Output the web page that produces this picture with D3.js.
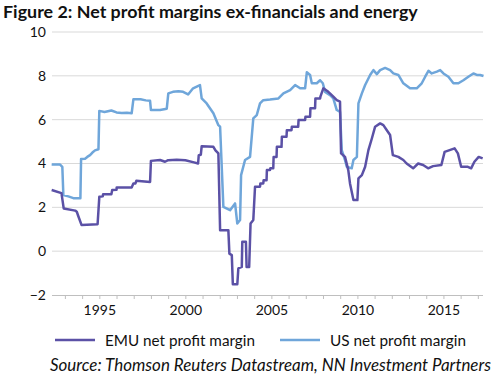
<!DOCTYPE html>
<html><head><meta charset="utf-8">
<script src="https://cdn.jsdelivr.net/npm/d3@7"></script>
<style>body{margin:0;background:#fff}svg{display:block}text{font-family:Lato,"Open Sans",sans-serif;fill:#111}</style>
</head><body><svg id="c" width="495" height="377"></svg>
<script>
const title = "Figure 2: Net profit margins ex-financials and energy";
const source = "Source: Thomson Reuters Datastream, NN Investment Partners";
const seriesNames = ["EMU net profit margin", "US net profit margin"];
const yTicks = [-2, 0, 2, 4, 6, 8, 10];
const xLabelYears = [1995, 2000, 2005, 2010, 2015];

const emuDates = [1992.23,1992.8,1992.93,1993.6,1993.69,1993.76,1993.97,1994.9,1995.0,1995.2,1995.22,1995.7,1995.75,1996.0,1996.01,1996.88,1996.98,1997.1,1997.15,1997.95,1998.0,1998.53,1998.82,1999.0,1999.5,2000.0,2000.5,2000.74,2000.78,2000.9,2000.95,2001.63,2001.75,2001.92,2002.02,2002.5,2002.56,2002.7,2002.76,2003.02,2003.08,2003.28,2003.31,2003.52,2003.56,2003.71,2003.79,2003.95,2004.05,2004.34,2004.36,2004.53,2004.55,2004.72,2004.74,2004.92,2004.94,2005.11,2005.13,2005.3,2005.32,2005.59,2005.61,2005.88,2005.9,2006.17,2006.19,2006.56,2006.58,2006.96,2006.98,2007.25,2007.27,2007.54,2007.56,2007.83,2007.85,2008.02,2008.31,2008.6,2008.8,2008.99,2009.05,2009.28,2009.47,2009.57,2009.67,2009.77,2010.0,2010.06,2010.26,2010.45,2010.64,2010.84,2011.03,2011.32,2011.51,2011.71,2011.9,2012.06,2012.38,2012.67,2012.86,2013.24,2013.53,2013.82,2014.11,2014.4,2014.88,2015.07,2015.36,2015.65,2015.84,2016.03,2016.42,2016.61,2016.8,2017.05,2017.28];
const emuValues = [2.79,2.65,1.95,1.85,1.8,1.64,1.19,1.23,2.48,2.5,2.6,2.6,2.79,2.8,2.91,2.91,3.09,3.09,3.21,3.16,4.12,4.16,4.08,4.15,4.17,4.15,4.05,4.0,4.38,4.4,4.79,4.76,4.6,4.46,0.96,0.96,-0.11,-0.18,-1.51,-1.51,-0.79,-0.72,0.43,0.43,-0.72,-0.72,1.26,1.42,2.94,2.94,3.09,3.09,3.24,3.24,3.7,3.7,3.78,3.78,4.3,4.3,4.76,4.76,5.22,5.22,5.52,5.52,5.68,5.68,5.98,5.98,6.13,6.13,6.52,6.52,6.97,6.97,7.05,7.43,7.27,7.05,6.89,6.82,4.46,4.3,3.7,3.09,2.71,2.33,2.33,3.32,3.47,3.85,4.61,5.14,5.68,5.83,5.75,5.52,5.3,4.38,4.3,4.16,4.0,3.78,4.0,3.93,3.78,3.88,3.93,4.53,4.61,4.69,4.46,3.85,3.85,3.78,4.08,4.3,4.23];

const usDates = [1992.23,1992.72,1992.85,1992.91,1993.2,1993.49,1993.9,1993.94,1994.17,1994.3,1994.46,1994.6,1994.75,1994.95,1995.0,1995.3,1995.7,1996.0,1996.3,1996.6,1996.88,1996.98,1997.4,1997.7,1997.95,1998.0,1998.53,1998.92,1999.01,1999.28,1999.6,1999.87,2000.16,2000.45,2000.85,2000.95,2001.24,2001.63,2001.92,2002.02,2002.21,2002.6,2002.89,2003.02,2003.18,2003.24,2003.47,2003.76,2003.95,2004.15,2004.34,2004.53,2004.92,2005.41,2005.7,2006.09,2006.38,2006.67,2006.96,2007.06,2007.25,2007.35,2007.64,2007.83,2007.99,2008.12,2008.41,2008.6,2008.8,2008.99,2009.09,2009.28,2009.38,2009.67,2009.77,2009.97,2010.06,2010.26,2010.45,2010.74,2010.93,2011.13,2011.32,2011.61,2011.9,2012.09,2012.38,2012.67,2013.06,2013.45,2013.74,2013.94,2014.13,2014.32,2014.62,2014.81,2015.0,2015.29,2015.58,2015.87,2016.16,2016.45,2016.74,2016.94,2017.13,2017.33];
const usValues = [3.96,3.95,3.85,2.56,2.5,2.42,2.42,4.2,4.22,4.3,4.38,4.5,4.6,4.65,6.4,6.35,6.42,6.33,6.3,6.32,6.29,6.93,6.93,6.88,6.86,6.44,6.44,6.5,7.2,7.27,7.3,7.27,7.15,7.43,7.58,6.97,6.74,6.29,5.75,5.68,2.02,1.87,2.18,1.26,1.42,3.47,4.16,4.3,6.06,6.21,6.74,6.89,6.92,6.97,7.2,7.35,7.58,7.43,7.43,8.16,8.04,7.66,7.66,7.8,7.66,7.27,7.12,6.97,6.44,6.36,4.61,4.16,3.85,3.78,4.16,4.3,6.74,7.2,7.58,8.04,8.26,8.08,8.26,8.36,8.26,8.11,8.04,7.66,7.43,7.43,7.66,7.96,8.23,8.11,8.19,8.26,8.11,7.96,7.66,7.66,7.8,7.96,8.11,8.04,8.04,7.99];

const colors = ["#5b51a6", "#6fa6da"];

const svg = d3.select("#c");
const x = d3.scaleLinear().domain([1992.25, 2017.3]).range([52, 483]);
const y = d3.scaleLinear().domain([-2, 10]).range([295, 32]);

function fit(sel, target) {
  const fs = +sel.attr("font-size");
  const w = sel.node().getComputedTextLength();
  if (w > 0) sel.attr("font-size", (fs * target / w).toFixed(2));
}

// title
const t = svg.append("text").attr("x", 3).attr("y", 18).attr("font-size", 16.5).attr("font-weight", "bold").text(title);
fit(t, 415);

// gridlines
svg.append("g").selectAll("line").data(yTicks.filter(v => v > -2)).join("line")
  .attr("x1", 52).attr("x2", 483).attr("y1", d => y(d)).attr("y2", d => y(d))
  .attr("stroke", "#d9d9d9").attr("stroke-width", 1);

// y axis labels
const yAxis = d3.axisLeft(y).tickValues(yTicks).tickSize(0).tickPadding(0).tickFormat(d3.format("d"));
const gy = svg.append("g").attr("transform", "translate(46,0)").call(yAxis);
gy.select(".domain").remove();
gy.selectAll("text").attr("font-size", 14).attr("font-family", "Lato, sans-serif").attr("fill", "#111");

// x axis
const years = d3.range(1993, 2018);
const xAxis = d3.axisBottom(x).tickValues(years).tickSize(4).tickFormat(d => xLabelYears.includes(d) ? d : "");
const gx = svg.append("g").attr("transform", `translate(0,${y(-2)})`).call(xAxis);
gx.select(".domain").attr("stroke", "#bfbfbf").attr("d", `M52,0.5H483`);
gx.selectAll(".tick line").attr("stroke", "#bfbfbf");
gx.selectAll("text").attr("font-size", 14).attr("font-family", "Lato, sans-serif").attr("fill", "#111").attr("dy", "0.9em");

// lines
const line = d3.line().x(d => x(d[0])).y(d => y(d[1]));
const emu = emuDates.map((d, i) => [d, emuValues[i]]);
const us = usDates.map((d, i) => [d, usValues[i]]);
[us, emu].forEach((s, i) => {
  svg.append("path").datum(s).attr("d", line).attr("fill", "none")
    .attr("stroke", i === 0 ? colors[1] : colors[0]).attr("stroke-width", 2.5).attr("stroke-linejoin", "round");
});

// legend
const leg = svg.append("g");
const legX = [[55, 105, 150], [280, 330, 136]];
seriesNames.forEach((n, i) => {
  leg.append("line").attr("x1", legX[i][0]).attr("x2", legX[i][0] + 40).attr("y1", 340).attr("y2", 340)
    .attr("stroke", colors[i]).attr("stroke-width", 2.5);
  const lt = leg.append("text").attr("x", legX[i][1]).attr("y", 346).attr("font-size", 15).text(n);
  fit(lt, legX[i][2]);
});

// source
const s = svg.append("text").attr("x", 50).attr("y", 371).attr("font-size", 14.5).attr("font-style", "italic").text(source);
fit(s, 441);
</script></body></html>
